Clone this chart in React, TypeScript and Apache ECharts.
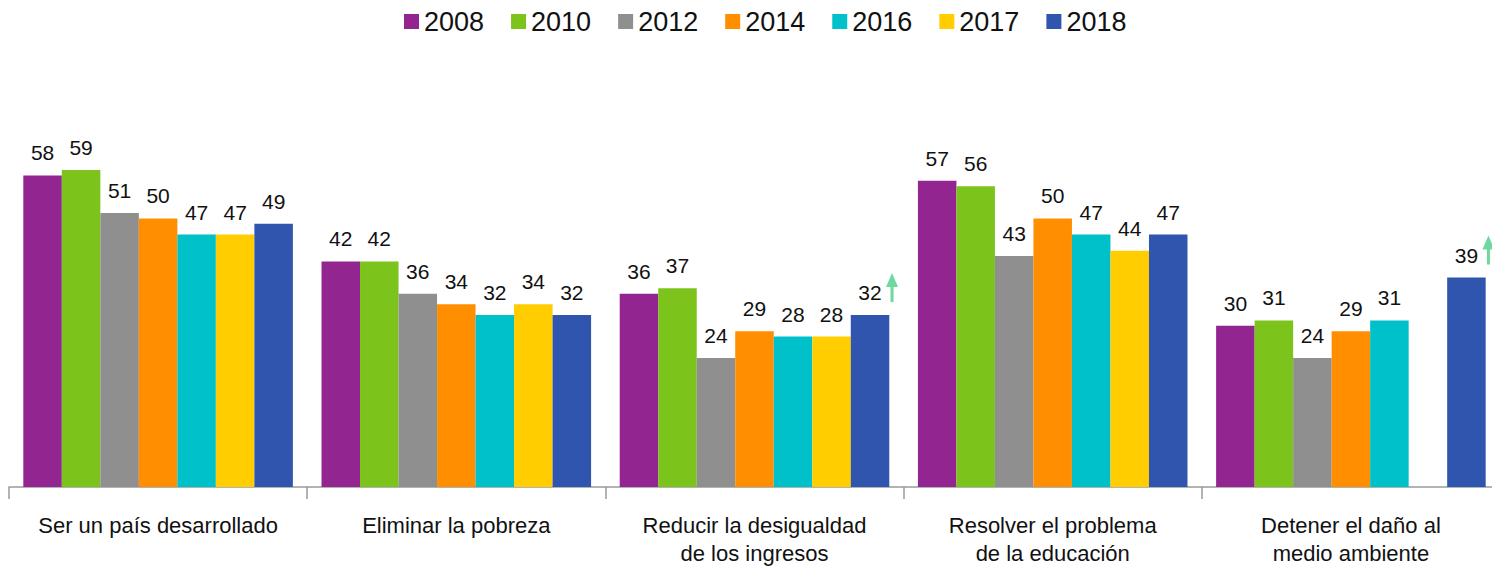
import React, { useEffect, useRef } from "react";
import * as echarts from "echarts";

const categories = [
  "Ser un país desarrollado",
  "Eliminar la pobreza",
  "Reducir la desigualdad\nde los ingresos",
  "Resolver el problema\nde la educación",
  "Detener el daño al\nmedio ambiente",
];
const years = ["2008", "2010", "2012", "2014", "2016", "2017", "2018"];
const v2008 = [58, 42, 36, 57, 30];
const v2010 = [59, 42, 37, 56, 31];
const v2012 = [51, 36, 24, 43, 24];
const v2014 = [50, 34, 29, 50, 29];
const v2016 = [47, 32, 28, 47, 31];
const v2017 = [47, 34, 28, 44, null];
const v2018 = [49, 32, 32, 47, 39];
const rise2018 = [false, false, true, false, true];

const colors = ["#922590", "#7CC31B", "#8F8F8F", "#FF8F00", "#00C1CA", "#FFCD00", "#2F55AF"];
const FONT = "'Liberation Sans', Arial, sans-serif";
const CAT_GAP = 0.096;

export default function App() {
  const ref = useRef<HTMLDivElement>(null);
  useEffect(() => {
    if (!ref.current) return;
    document.documentElement.style.overflow = "hidden";
    document.body.style.overflow = "hidden";
    const chart = echarts.init(ref.current, null, { renderer: "svg" });
    const seriesValues = [v2008, v2010, v2012, v2014, v2016, v2017, v2018];
    const barSeries = seriesValues.map((vals, i) => ({
      name: years[i],
      type: "bar",
      data: vals,
      barGap: "0%",
      barCategoryGap: CAT_GAP * 100 + "%",
      itemStyle: { color: colors[i] },
      label: {
        show: true,
        position: "top",
        distance: 12,
        color: "#111",
        fontSize: 21,
        fontFamily: FONT,
      },
    }));
    const arrowData = rise2018
      .map((r, i) => (r ? [i, v2018[i]] : null))
      .filter((d) => d !== null);
    const arrowSeries = {
      type: "custom",
      name: "arrows",
      clip: false,
      silent: true,
      data: arrowData,
      encode: { x: 0, y: 1 },
      renderItem: (params: any, api: any) => {
        const pt = api.coord([api.value(0), api.value(1)]);
        const band = api.size([1, 0])[0];
        const bw = (band * (1 - CAT_GAP)) / years.length;
        const cx = pt[0] + 3 * bw + 22;
        const top = pt[1] - 42;
        const bottom = pt[1] - 13;
        const col = "#6ED89E";
        return {
          type: "group",
          children: [
            {
              type: "line",
              shape: { x1: cx, y1: top + 11, x2: cx, y2: bottom },
              style: { stroke: col, lineWidth: 3 },
            },
            {
              type: "polygon",
              shape: {
                points: [
                  [cx, top],
                  [cx - 6, top + 14],
                  [cx + 6, top + 14],
                ],
              },
              style: { fill: col },
            },
          ],
        };
      },
    };
    chart.setOption({
      animation: false,
      textStyle: { fontFamily: FONT },
      color: colors,
      legend: {
        data: years,
        left: 399,
        top: 3,
        itemWidth: 15,
        itemHeight: 15,
        itemGap: 27,
        icon: "rect",
        textStyle: { fontSize: 27, color: "#111", fontFamily: FONT },
      },
      grid: { left: 9, right: 1, top: 111, bottom: 76.3, containLabel: false },
      xAxis: {
        type: "category",
        data: categories,
        axisLine: { show: true, lineStyle: { color: "#9A9A9A", width: 1.5 } },
        axisTick: { show: true, length: 12, lineStyle: { color: "#9A9A9A", width: 1.5 } },
        axisLabel: {
          margin: 24,
          fontSize: 22,
          lineHeight: 28,
          color: "#111",
          fontFamily: FONT,
          interval: 0,
        },
      },
      yAxis: {
        type: "value",
        min: 0,
        max: 70,
        show: false,
        splitLine: { show: false },
      },
      series: [...barSeries, arrowSeries],
    });
    return () => chart.dispose();
  }, []);
  return (
    <div
      ref={ref}
      style={{ position: "fixed", left: 0, top: 0, width: 1501, height: 567, background: "#fff" }}
    />
  );
}
